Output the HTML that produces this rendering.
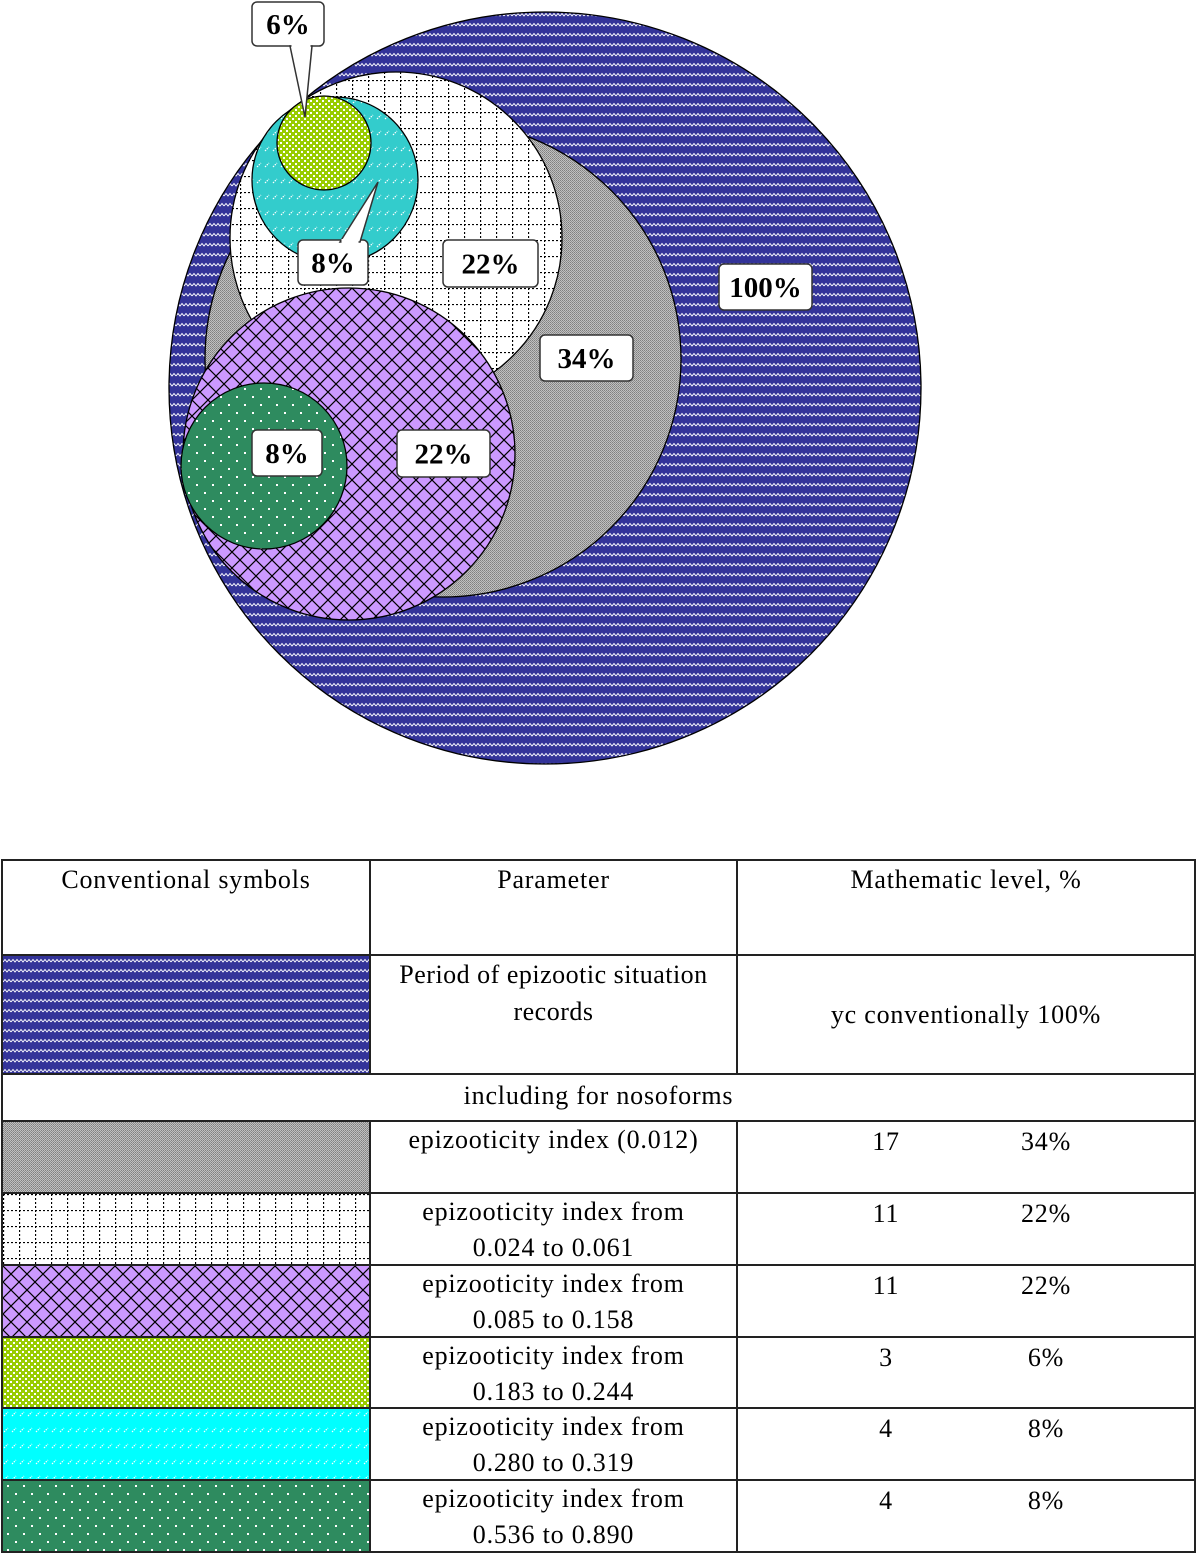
<!DOCTYPE html>
<html><head><meta charset="utf-8">
<style>
html,body{margin:0;padding:0;background:#fff;width:1200px;height:1553px;overflow:hidden;position:relative}
#chart{position:absolute;left:0;top:0}
table{position:absolute;left:1px;top:859px;border-collapse:collapse;table-layout:fixed;width:1195px;font-family:"Liberation Serif",serif;font-size:26px;color:#000;letter-spacing:0.8px}
td{border:2px solid #222;padding:0;text-align:center;vertical-align:top;line-height:37px;overflow:hidden}
td>div{overflow:hidden}
td.sw svg{display:block}
.pair span{display:inline-block;width:160px}
</style></head><body>
<svg id="chart" width="1200" height="800" xmlns="http://www.w3.org/2000/svg">
<defs>
<pattern id="p-blue" width="8" height="10" patternUnits="userSpaceOnUse"><rect width="8" height="10" fill="#333399"/><path d="M0 6 L2 3.5 L4 6 L6 3.5 L8 6" stroke="#fff" stroke-width="1" fill="none"/></pattern>
<pattern id="p-gray" width="2" height="2" patternUnits="userSpaceOnUse"><rect width="2" height="2" fill="#c0c0c0"/><rect width="1" height="1" fill="#808080"/><rect x="1" y="1" width="1" height="1" fill="#909090"/></pattern>
<pattern id="p-grid" width="16" height="16" patternUnits="userSpaceOnUse"><rect width="16" height="16" fill="#fff"/><path d="M0 0.5H16M0.5 0V16" stroke="#000" stroke-width="1.3" stroke-dasharray="2 2"/></pattern>
<pattern id="p-purple" width="16" height="16" patternUnits="userSpaceOnUse"><rect width="16" height="16" fill="#cc99ff"/><path d="M0 0L16 16M16 0L0 16" stroke="#000" stroke-width="1.2"/></pattern>
<pattern id="p-lime" width="6" height="6" patternUnits="userSpaceOnUse"><rect width="6" height="6" fill="#99cc00"/><rect x="1" y="1" width="2" height="2" fill="#fff"/><rect x="4" y="4" width="2" height="2" fill="#fff"/></pattern>
<pattern id="p-cyan" width="8" height="16" patternUnits="userSpaceOnUse"><rect width="8" height="16" fill="#33cccc"/><path d="M1 7L5 3" stroke="#fff" stroke-width="1.2" stroke-dasharray="1.5 1"/></pattern>
<pattern id="p-cyan2" width="8" height="16" patternUnits="userSpaceOnUse"><rect width="8" height="16" fill="#00ffff"/><path d="M1 7L5 3" stroke="#fff" stroke-width="1.2" stroke-dasharray="1.5 1"/></pattern>
<pattern id="p-green" width="16" height="16" patternUnits="userSpaceOnUse"><rect width="16" height="16" fill="#2e8b5f"/><rect x="4" y="4" width="2" height="2" fill="#fff"/><rect x="12" y="12" width="2" height="2" fill="#fff"/></pattern>
</defs>
<g id="circles"></g>
<g id="labels"></g>
</svg>

<table>
<colgroup><col style="width:368px"><col style="width:367px"><col></colgroup>
<tr><td><div style="height:93px">Conventional symbols</div></td><td><div style="height:93px">Parameter</div></td><td><div style="height:93px">Mathematic level, %</div></td></tr>
<tr><td class="sw"><div style="height:117px"><svg width="368" height="117"><rect width="368" height="117" fill="url(#p-blue)"/></svg></div></td><td><div style="height:117px;letter-spacing:0.5px">Period of epizootic situation<br>records</div></td><td><div style="height:117px;line-height:117px">yc conventionally 100%</div></td></tr>
<tr><td colspan="3"><div style="height:45px;line-height:42px">including for nosoforms</div></td></tr>
<tbody id="rows"></tbody>
</table>

<script>
// chart data
const categories = ["Period of records","index 0.012","index 0.024-0.061","index 0.085-0.158","index 0.183-0.244","index 0.280-0.319","index 0.536-0.890"];
const percents = [100,34,22,22,6,8,8];
const counts = [null,17,11,11,3,4,4];
const labelTexts = ["100%","34%","22%","22%","6%","8%","8%"];
const paramLine1 = ["","epizooticity index (0.012)","epizooticity index from","epizooticity index from","epizooticity index from","epizooticity index from","epizooticity index from"];
const paramLine2 = ["","","0.024 to 0.061","0.085 to 0.158","0.183 to 0.244","0.280 to 0.319","0.536 to 0.890"];

// layout (not data)
const fills = ["p-blue","p-gray","p-grid","p-purple","p-lime","p-cyan","p-green"];
const swatchFills = ["p-blue","p-gray","p-grid","p-purple","p-lime","p-cyan2","p-green"];
const centers = [[545,388],[443,359],[396,238],[349,454],[324,143],[335,180],[264,466]];
const drawOrder = [0,1,2,5,4,3,6];
const labelBoxes = [[719,264,93,46],[540,335,93,46],[443,240,95,47],[397,430,93,47],[252,2,72,44],[298,240,70,45],[252,430,70,46]];
const pointers = {4:[[290,46],[305,117],[312,46]], 5:[[340,242],[378,182],[360,242]]};

// radius scale (piecewise)
const rDom=[0,6,8,22,34,100], rRng=[0,47,83,166,238,376];
function rScale(v){for(let i=1;i<rDom.length;i++){if(v<=rDom[i]){const t=(v-rDom[i-1])/(rDom[i]-rDom[i-1]);return rRng[i-1]+t*(rRng[i]-rRng[i-1]);}}return rRng[rRng.length-1];}

const NS="http://www.w3.org/2000/svg";
const gC=document.getElementById('circles'), gL=document.getElementById('labels');
drawOrder.forEach(i=>{
  const c=document.createElementNS(NS,'circle');
  
  
  c.setAttribute('cx',centers[i][0]);c.setAttribute('cy',centers[i][1]);
  c.setAttribute('r',rScale(percents[i]));
  c.setAttribute('fill','url(#'+fills[i]+')');c.setAttribute('stroke','#000');c.setAttribute('stroke-width','1.3');
  gC.appendChild(c);
});
percents.forEach((v,i)=>{
  const b=labelBoxes[i];
  const g=document.createElementNS(NS,'g');
  
  
  const r=document.createElementNS(NS,'rect');
  r.setAttribute('x',b[0]);r.setAttribute('y',b[1]);r.setAttribute('width',b[2]);r.setAttribute('height',b[3]);
  r.setAttribute('rx',5);r.setAttribute('fill','#fff');r.setAttribute('stroke','#333');r.setAttribute('stroke-width','1.5');
  g.appendChild(r);
  if(pointers[i]){const p=document.createElementNS(NS,'polygon');
    p.setAttribute('points',pointers[i].map(q=>q.join(',')).join(' '));
    p.setAttribute('fill','#fff');p.setAttribute('stroke','#333');p.setAttribute('stroke-width','1.5');g.appendChild(p);
    const cov=document.createElementNS(NS,'rect');
    const xs=pointers[i].map(q=>q[0]);
    const onTop=pointers[i][1][1]<b[1];
    cov.setAttribute('x',Math.min(xs[0],xs[2])+1.5);cov.setAttribute('width',Math.abs(xs[2]-xs[0])-3);
    cov.setAttribute('y',onTop?b[1]-1:b[1]+b[3]-4);cov.setAttribute('height',5);cov.setAttribute('fill','#fff');g.appendChild(cov);}
  const t=document.createElementNS(NS,'text');
  t.setAttribute('x',b[0]+b[2]/2);t.setAttribute('y',b[1]+b[3]/2+10);
  t.setAttribute('text-anchor','middle');t.setAttribute('font-family','Liberation Serif, serif');
  t.setAttribute('font-weight','bold');t.setAttribute('font-size','29');
  t.textContent=labelTexts[i];g.appendChild(t);
  gL.appendChild(g);
});

// table rows
const tb=document.getElementById('rows');
const rowH=[70,70,70,69,70,70];
for(let i=1;i<categories.length;i++){
  const tr=document.createElement('tr');
  
  
  const h=rowH[i-1];
  tr.innerHTML='<td class="sw"><div style="height:'+h+'px"><svg width="368" height="'+h+'"><rect width="368" height="'+h+'" fill="url(#'+swatchFills[i]+')"/></svg></div></td>'+
   '<td><div style="height:'+h+'px;line-height:36px">'+paramLine1[i]+(paramLine2[i]?'<br>'+paramLine2[i]:'')+'</div></td>'+
   '<td class="pair"><div style="height:'+h+'px;line-height:40px"><span>'+counts[i]+'</span><span>'+percents[i]+'%</span></div></td>';
  tb.appendChild(tr);
}
</script>
</body></html>
